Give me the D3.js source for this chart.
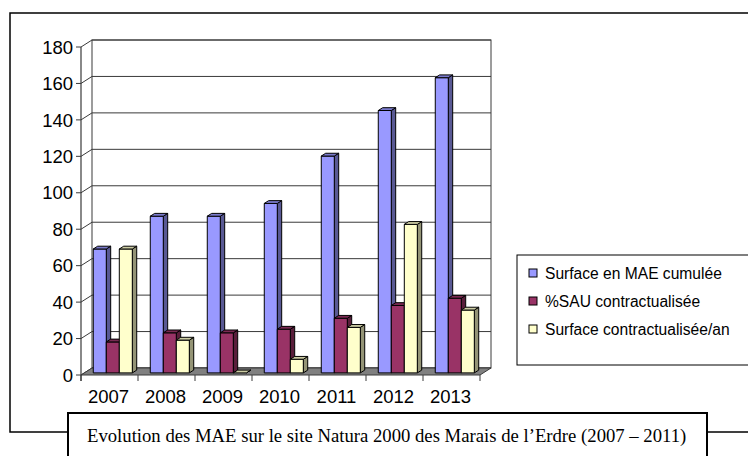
<!DOCTYPE html>
<html>
<head>
<meta charset="utf-8">
<script src="https://cdn.jsdelivr.net/npm/d3@7"></script>
<style>
  html, body { margin: 0; padding: 0; background: #fff; }
  svg { display: block; }
</style>
</head>
<body>
<svg id="chart" width="748" height="456"></svg>
<script>
// Data
const years = ["2007", "2008", "2009", "2010", "2011", "2012", "2013"];
const surfaceMAE = [68, 86, 86, 93, 119, 144, 162];
const sauContract = [17, 22, 22, 24, 30, 37, 41];
const surfaceAn = [68, 18, 0, 7.5, 25, 81.5, 34.5];
const seriesNames = ["Surface en MAE cumulée", "%SAU contractualisée", "Surface contractualisée/an"];
const seriesColors = ["#9999FF", "#993366", "#FFFFCC"];
const yTicks = [0, 20, 40, 60, 80, 100, 120, 140, 160, 180];
const caption = "Evolution des MAE sur le site Natura 2000 des Marais de l\u2019Erdre (2007 \u2013 2011)";

const seriesValues = [surfaceMAE, sauContract, surfaceAn];

const svg = d3.select("#chart");

// Outer chart frame
svg.append("rect")
  .attr("x", 10).attr("y", 13).attr("width", 780).attr("height", 419)
  .attr("fill", "#fff").attr("stroke", "#000").attr("stroke-width", 1.5);

// 3D plot geometry: front plane plus a receding depth offset
const left = 81, right = 480;
const DX = 11, DY = -7;        // depth of the plot box
const f1 = 0.3, f2 = 0.7;      // depth slice occupied by the columns

const y = d3.scaleLinear().domain([0, 180]).range([375, 47]);
const x = d3.scaleBand().domain(years).range([left, right]).padding(0);
const xs = d3.scaleBand().domain(d3.range(3)).range([0, x.bandwidth()])
  .paddingInner(0).paddingOuter(0.69);

const gridColor = "#3a3a3a";
const plot = svg.append("g");

// Back wall
plot.append("rect")
  .attr("x", left + DX).attr("y", y(180) + DY)
  .attr("width", right - left).attr("height", y(0) - y(180))
  .attr("fill", "#fff").attr("stroke", gridColor).attr("stroke-width", 1);

// Gridlines: back wall horizontal + side-wall diagonals
yTicks.forEach(v => {
  plot.append("line")
    .attr("x1", left + DX).attr("x2", right + DX)
    .attr("y1", y(v) + DY).attr("y2", y(v) + DY)
    .attr("stroke", gridColor).attr("stroke-width", 1);
  plot.append("line")
    .attr("x1", left).attr("y1", y(v))
    .attr("x2", left + DX).attr("y2", y(v) + DY)
    .attr("stroke", gridColor).attr("stroke-width", 1);
  plot.append("line")
    .attr("x1", left - 5).attr("x2", left)
    .attr("y1", y(v)).attr("y2", y(v))
    .attr("stroke", gridColor).attr("stroke-width", 1);
});

// Floor
plot.append("polygon")
  .attr("points", [[left, y(0)], [right, y(0)], [right + DX, y(0) + DY], [left + DX, y(0) + DY]].map(p => p.join(",")).join(" "))
  .attr("fill", "#808080").attr("stroke", gridColor).attr("stroke-width", 1);

// Value axis line
plot.append("line")
  .attr("x1", left).attr("x2", left)
  .attr("y1", y(180)).attr("y2", y(0) + 6)
  .attr("stroke", gridColor).attr("stroke-width", 1.2);

// Category ticks
d3.range(years.length + 1).forEach(i => {
  const xx = left + i * x.step();
  plot.append("line")
    .attr("x1", xx).attr("x2", xx)
    .attr("y1", y(0)).attr("y2", y(0) + 6)
    .attr("stroke", gridColor).attr("stroke-width", 1);
});

// Value labels
svg.append("g").selectAll("text").data(yTicks).join("text")
  .attr("x", 73).attr("y", d => y(d))
  .attr("dy", "0.36em")
  .attr("text-anchor", "end")
  .attr("font-family", "Liberation Sans, Arial, sans-serif")
  .attr("font-size", 18.5)
  .attr("fill", "#000")
  .text(d => d);

// Category labels
svg.append("g").selectAll("text").data(years).join("text")
  .attr("x", d => x(d) + x.bandwidth() / 2 - 1)
  .attr("y", 403)
  .attr("text-anchor", "middle")
  .attr("font-family", "Liberation Sans, Arial, sans-serif")
  .attr("font-size", 18.5)
  .attr("fill", "#000")
  .text(d => d);

// 3D columns
const shade = (c, k) => {
  const r = d3.rgb(c);
  return d3.rgb(r.r * k, r.g * k, r.b * k).formatHex();
};
const ddx = DX * (f2 - f1), ddy = DY * (f2 - f1);
const bars = plot.append("g");
years.forEach((yr, i) => {
  seriesValues.forEach((vals, s) => {
    const v = vals[i];
    const x0 = x(yr) + xs(s) + DX * f1;
    const w = xs.bandwidth();
    const yt = y(v) + DY * f1;
    const yb = y(0) + DY * f1;
    const col = seriesColors[s];
    const g = bars.append("g").attr("stroke", "#000").attr("stroke-width", 1).attr("stroke-linejoin", "round");
    g.append("polygon")
      .attr("points", [[x0 + w, yt], [x0 + w + ddx, yt + ddy], [x0 + w + ddx, yb + ddy], [x0 + w, yb]].map(p => p.join(",")).join(" "))
      .attr("fill", shade(col, 0.58));
    g.append("rect")
      .attr("x", x0).attr("y", yt).attr("width", w).attr("height", Math.max(0, yb - yt))
      .attr("fill", col);
    g.append("polygon")
      .attr("points", [[x0, yt], [x0 + ddx, yt + ddy], [x0 + w + ddx, yt + ddy], [x0 + w, yt]].map(p => p.join(",")).join(" "))
      .attr("fill", shade(col, 0.8));
  });
});

// Legend
const legend = svg.append("g");
legend.append("rect")
  .attr("x", 517).attr("y", 255).attr("width", 260).attr("height", 110)
  .attr("fill", "#fff").attr("stroke", "#000").attr("stroke-width", 1);
seriesNames.forEach((name, s) => {
  const cy = 273 + s * 28;
  legend.append("rect")
    .attr("x", 529).attr("y", cy - 4).attr("width", 8).attr("height", 8)
    .attr("fill", seriesColors[s]).attr("stroke", "#000").attr("stroke-width", 1);
  legend.append("text")
    .attr("x", 545).attr("y", cy + 6)
    .attr("font-family", "Liberation Sans, Arial, sans-serif")
    .attr("font-size", 15.6)
    .attr("fill", "#000")
    .text(name);
});

// Caption box
svg.append("rect")
  .attr("x", 68).attr("y", 413).attr("width", 639).attr("height", 80)
  .attr("fill", "#fff").attr("stroke", "#000").attr("stroke-width", 2);
svg.append("text")
  .attr("x", 87).attr("y", 442)
  .attr("font-family", "Liberation Serif, Times New Roman, serif")
  .attr("font-size", 18.7)
  .attr("fill", "#000")
  .text(caption);
</script>
</body>
</html>
